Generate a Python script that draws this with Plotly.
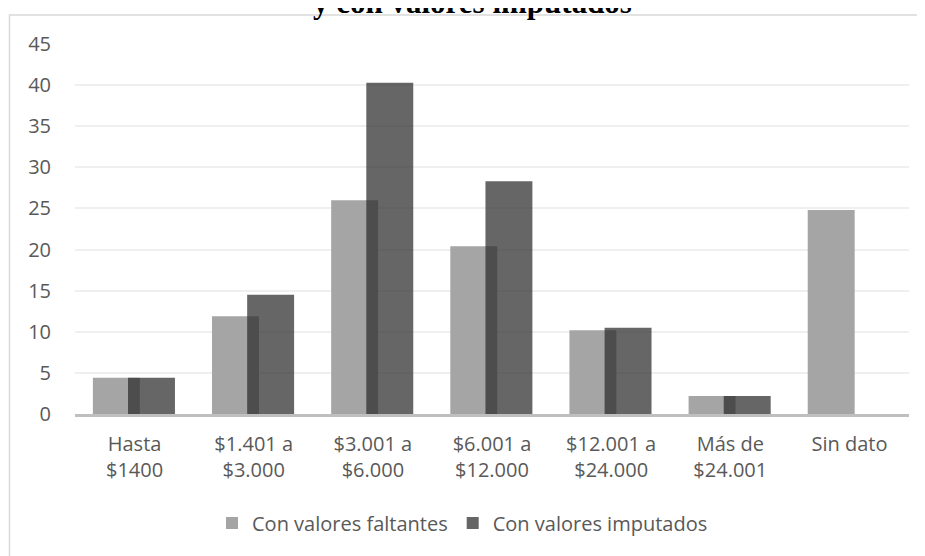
import plotly.graph_objects as go

categories = ["Hasta<br>$1400", "$1.401 a<br>$3.000", "$3.001 a<br>$6.000",
              "$6.001 a<br>$12.000", "$12.001 a<br>$24.000", "Más de<br>$24.001", "Sin dato"]
faltantes = [4.4, 11.9, 26.0, 20.4, 10.2, 2.2, 24.8]
imputados = [4.4, 14.5, 40.3, 28.3, 10.5, 2.2, None]
title_text = "y con valores imputados"

# the page body has an 8px margin, so everything is positioned relative to that offset
OFF = 8

fig = go.Figure()
fig.add_trace(go.Bar(
    x=categories, y=faltantes, name="Con valores faltantes",
    marker=dict(color="#a5a5a5", line=dict(width=0)),
    width=0.394, offset=-0.35,
))
fig.add_trace(go.Bar(
    x=categories, y=imputados, name="Con valores imputados",
    marker=dict(color="rgba(43,43,43,0.72)", line=dict(width=0)),
    width=0.394, offset=-0.055,
))

fig.update_layout(
    width=925, height=556,
    barmode="overlay",
    paper_bgcolor="white", plot_bgcolor="white",
    margin=dict(l=75 - OFF, r=16 + OFF, t=44 - OFF, b=142 + OFF),
    font=dict(family="Open Sans", size=20, color="#595959"),
    showlegend=True,
    legend=dict(orientation="h", x=(212 - OFF) / 925, xref="container", xanchor="left",
                y=1 - (523 - OFF) / 556, yref="container", yanchor="middle",
                font=dict(size=20, color="#595959"), bgcolor="rgba(0,0,0,0)",
                traceorder="normal"),
    xaxis=dict(showline=True, linecolor="#bfbfbf", linewidth=3,
               showgrid=False, ticks="", ticklabelstandoff=10,
               tickfont=dict(size=20, color="#595959")),
    yaxis=dict(range=[0, 45], dtick=5, showgrid=True, gridcolor="#efefef",
               gridwidth=1.5, zeroline=False, showline=False, ticks="",
               ticklabelstandoff=23, tickfont=dict(size=20, color="#595959")),
    annotations=[dict(text="<b>" + title_text + "</b>", xref="paper", yref="paper",
                      x=(472 - 75) / 834, y=(414 - 2) / 370, xanchor="center", yanchor="middle",
                      showarrow=False,
                      font=dict(family="Liberation Serif", size=31, color="#000000"))],
    shapes=[dict(type="rect", xref="paper", yref="paper",
                 x0=(9.5 - 75) / 834, x1=1.2, y0=-0.6, y1=(414 - 15) / 370,
                 line=dict(color="#d9d9d9", width=1.5), fillcolor="rgba(0,0,0,0)",
                 layer="below")],
)

fig.write_html("out.html")
